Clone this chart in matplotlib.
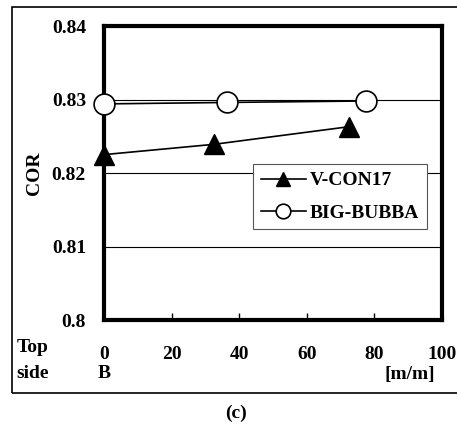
import matplotlib.pyplot as plt
from matplotlib.patches import Rectangle

# data
vcon_x = [0, 32.5, 72.5]
vcon_y = [0.8225, 0.8239, 0.8263]
bubba_x = [0, 36.5, 77.5]
bubba_y = [0.8294, 0.8296, 0.8298]
yticks = [0.80, 0.81, 0.82, 0.83, 0.84]
ytick_labels = ['0.8', '0.81', '0.82', '0.83', '0.84']
xticks = [0, 20, 40, 60, 80, 100]

plt.rcParams['font.family'] = ['Liberation Serif', 'DejaVu Serif']
plt.rcParams['font.weight'] = 'bold'

fig = plt.figure(figsize=(4.57, 4.33), dpi=100)
W, H = 457, 433
ax = fig.add_axes([104 / W, 1 - 320 / H, (442 - 104) / W, (320 - 26) / H])

ax.plot(vcon_x, vcon_y, color='black', lw=1.2, marker='^', ms=15,
        mfc='black', mec='black', label='V-CON17', clip_on=False, zorder=3)
ax.plot(bubba_x, bubba_y, color='black', lw=1.2, marker='o', ms=15,
        mfc='white', mec='black', mew=1.2, label='BIG-BUBBA', clip_on=False, zorder=3)

ax.set_xlim(0, 100)
ax.set_ylim(0.80, 0.84)
ax.set_yticks(yticks)
ax.set_yticklabels(ytick_labels, fontsize=14, fontweight='bold')
ax.set_xticks(xticks)
ax.set_xticklabels([str(v) for v in xticks], fontsize=14, fontweight='bold')
ax.tick_params(axis='y', length=0, pad=13)
ax.tick_params(axis='x', direction='in', length=5, width=1, pad=19)
for y in yticks[1:4]:
    ax.axhline(y, color='black', lw=0.8, zorder=1)
for s in ax.spines.values():
    s.set_linewidth(3)

ax.set_ylabel('COR', fontsize=14, fontweight='bold', labelpad=6)

leg = ax.legend(loc='upper left', bbox_to_anchor=((253 - 104) / 338, 1 - (164 - 26) / 294),
                prop={'family': 'Liberation Serif', 'weight': 'bold', 'size': 14},
                fancybox=False, framealpha=1, edgecolor='#555555', markerscale=0.7,
                handlelength=2.3, borderaxespad=0, handletextpad=0.2, labelspacing=0.75)
leg.get_frame().set_linewidth(0.8)

fig.text(33 / W, 1 - 348 / H, 'Top', fontsize=14, fontweight='bold', va='center', ha='center')
fig.text(33 / W, 1 - 374 / H, 'side', fontsize=14, fontweight='bold', va='center', ha='center')
fig.text(104 / W, 1 - 374 / H, 'B', fontsize=14, fontweight='bold', va='center', ha='center')
fig.text(410 / W, 1 - 374 / H, '[m/m]', fontsize=14, fontweight='bold', va='center', ha='center')
fig.text(236 / W, 1 - 413 / H, '(c)', fontsize=14, fontweight='bold', va='center', ha='center')

fig.patches.append(Rectangle((12 / W, 1 - 393 / H), (470 - 12) / W, (393 - 7) / H,
                             transform=fig.transFigure, fill=False, lw=1.2, ec='black'))

fig.savefig('out.png', dpi=100)
